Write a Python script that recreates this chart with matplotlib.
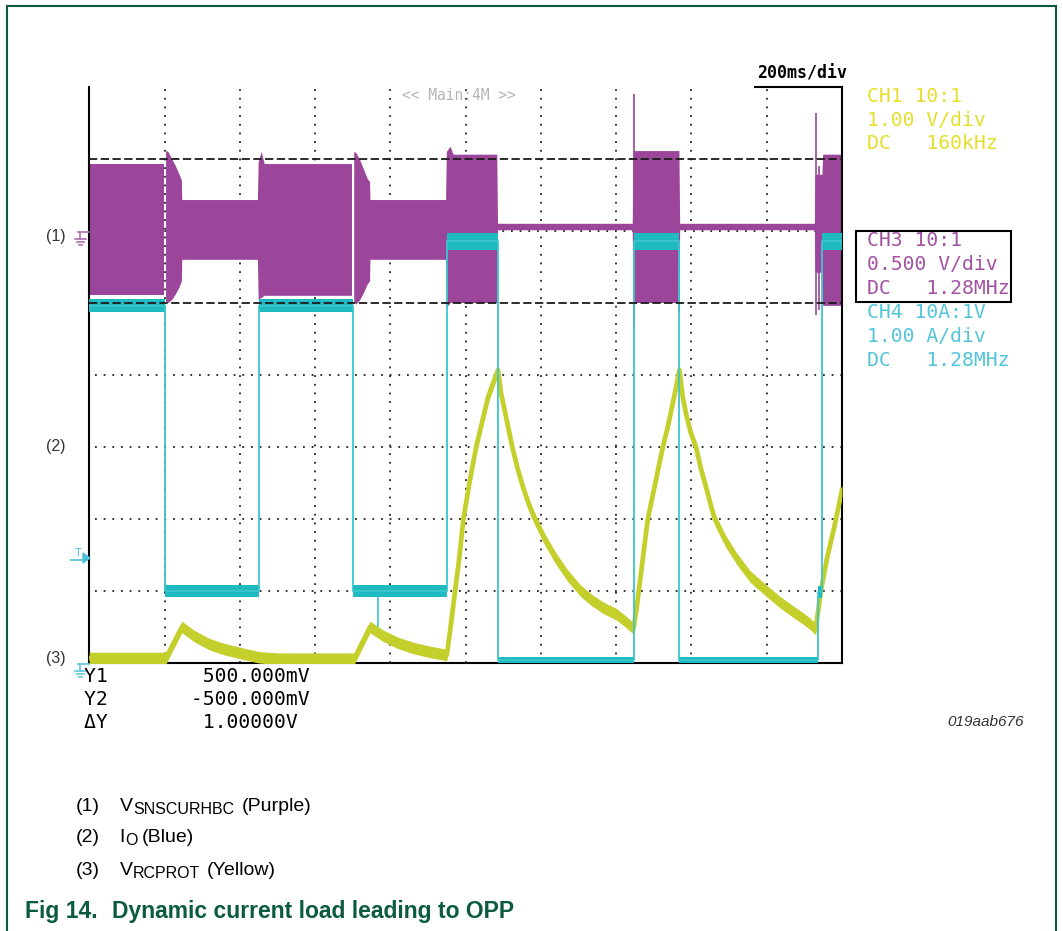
import matplotlib
matplotlib.use('Agg')
import matplotlib.pyplot as plt
import numpy as np
from matplotlib.patches import Rectangle, Polygon

W, H = 1063, 931

# --- CH3 (purple) envelope, time and level in divisions, nan = trace gap
purple_t = [0.00, 0.99, np.nan, 1.02, 1.05, 1.10, 1.15, 1.20, 1.23, 1.235,
            2.24, 2.25, 2.29, 2.33, 3.49, np.nan, 3.52, 3.55, 3.60, 3.65, 3.70, 3.73, 3.735,
            4.74, 4.75, 4.80, 4.84, 5.42, 5.43, 7.22, 7.23, 7.84, 7.85,
            9.64, 9.65, 9.74, 9.75, 10.0]
purple_hi = [6.93, 6.93, np.nan, 7.11, 7.10, 7.00, 6.90, 6.78, 6.70, 6.43,
             6.43, 6.95, 7.10, 6.93, 6.93, np.nan, 7.10, 7.08, 6.98, 6.85, 6.72, 6.68, 6.43,
             6.43, 7.10, 7.17, 7.06, 7.06, 6.10, 6.10, 7.11, 7.11, 6.10,
             6.10, 6.78, 6.78, 7.06, 7.06]
purple_lo = [5.11, 5.11, np.nan, 5.02, 5.00, 5.04, 5.12, 5.22, 5.30, 5.60,
             5.60, 5.05, 5.07, 5.10, 5.10, np.nan, 5.02, 4.98, 5.04, 5.14, 5.26, 5.30, 5.60,
             5.60, 4.93, 5.00, 5.00, 5.00, 6.01, 6.01, 5.00, 5.00, 6.01,
             6.01, 5.42, 5.42, 4.96, 4.96]
spike_t = [7.23, 7.83, 9.66, 9.70]
spike_hi = [7.90, 5.20, 7.64, 6.90]
spike_lo = [4.67, 4.86, 4.83, 4.90]

# --- CH4 (cyan) load current, step levels
cyan_t = [0.0, 1.0, 2.26, 3.5, 4.75, 5.43, 7.23, 7.84, 9.68, 9.74, 10.0]
cyan_lo = [4.87, 0.91, 4.87, 0.91, 5.74, 0.00, 5.74, 0.00, 0.90, 5.74, 5.74]
cyan_hi = [5.06, 1.08, 5.06, 1.08, 5.97, 0.08, 5.97, 0.08, 1.07, 5.97, 5.97]

# --- CH1 (yellow) RCPROT voltage
yellow_t = [0.0, 1.02, 1.23, 1.4, 1.6, 1.8, 2.0, 2.25, 2.5, 3.52, 3.73, 3.9, 4.1, 4.3, 4.5,
            4.75, 4.80, 4.86, 4.92, 4.97, 5.05, 5.14, 5.22, 5.30, 5.37, 5.43,
            5.47, 5.52, 5.57, 5.62, 5.69, 5.76, 5.84, 5.92, 6.05, 6.20, 6.35, 6.53,
            6.68, 6.84, 7.00, 7.12, 7.23,
            7.27, 7.30, 7.36, 7.42, 7.52, 7.62, 7.69, 7.75, 7.80, 7.84,
            7.88, 7.93, 7.99, 8.06, 8.13, 8.20, 8.26, 8.31, 8.45, 8.60, 8.78, 9.00,
            9.17, 9.33, 9.48, 9.57, 9.65, 9.72, 9.80, 9.90, 10.0]
yellow_v = [0.07, 0.07, 0.50, 0.37, 0.26, 0.19, 0.14, 0.08, 0.06, 0.06, 0.50, 0.38, 0.28, 0.21, 0.16,
            0.11, 0.50, 1.00, 1.50, 2.00, 2.50, 3.00, 3.35, 3.70, 3.90, 4.07,
            3.75, 3.50, 3.25, 3.00, 2.70, 2.45, 2.20, 2.00, 1.72, 1.45, 1.22, 1.00,
            0.87, 0.76, 0.68, 0.58, 0.48,
            0.75, 1.00, 1.50, 2.00, 2.50, 3.00, 3.30, 3.60, 3.85, 4.07,
            3.72, 3.45, 3.20, 3.00, 2.68, 2.42, 2.18, 2.00, 1.70, 1.45, 1.20, 1.00,
            0.85, 0.73, 0.62, 0.55, 0.47, 1.00, 1.45, 1.90, 2.40]

ch1_lines = ["CH1 10:1", "1.00 V/div", "DC   160kHz"]
ch3_lines = ["CH3 10:1", "0.500 V/div", "DC   1.28MHz"]
ch4_lines = ["CH4 10A:1V", "1.00 A/div", "DC   1.28MHz"]
cursor_lines = ["Y1        500.000mV", "Y2       -500.000mV", "\u0394Y        1.00000V"]

PURPLE = '#9b459b'
CYAN = '#1fbac0'
YELLOW = '#c5cf2c'
GREEN = '#0b5b3f'
MONO = 'DejaVu Sans Mono'
SANS = 'Liberation Sans'


def fx(x):
    return x / W


def fy(y):
    return 1 - y / H


fig = plt.figure(figsize=(W / 100, H / 100), dpi=100)
ax = fig.add_axes([fx(89.3), fy(663), (842 - 89.3) / W, 576 / H])
ax.set_xlim(0, 10)
ax.set_ylim(0, 8)
ax.set_xticks([])
ax.set_yticks([])
ax.spines['top'].set_visible(False)
for s in ['left', 'bottom', 'right']:
    ax.spines[s].set_linewidth(1.5)
    ax.spines[s].set_color('black')

# graticule
dots = (0, (1, 3.8))
for gx in range(1, 10):
    ax.plot([gx, gx], [0, 7.97], ls=dots, lw=1.3, color='#222222', zorder=1)
for gy in [1, 2, 3, 4, 6]:
    ax.plot([0.08, 10], [gy, gy], ls=dots, lw=1.3, color='#222222', zorder=1)

# traces
pt = np.array(purple_t)
ax.fill_between(pt, np.array(purple_lo), np.array(purple_hi), color=PURPLE, lw=0, zorder=2)
ax.vlines(spike_t, spike_lo, spike_hi, color=PURPLE, lw=1.2, zorder=2)

yv = np.array(yellow_v)
ax.fill_between(yellow_t, yv - 0.08, yv + 0.08, color=YELLOW, lw=0, zorder=3)
ax.plot(yellow_t, yv, color=YELLOW, lw=3.4, solid_joinstyle='round', zorder=3)

clo = np.array(cyan_lo)
chi = np.array(cyan_hi)
ax.fill_between(cyan_t, clo, chi, step='post', color=CYAN, lw=0, zorder=4)
ax.plot(cyan_t, (clo + chi) / 2, drawstyle='steps-post', color='#3cc6cc', lw=1.3, zorder=4)
ax.vlines([3.84], [0.5], [0.91], color='#3cc6cc', lw=1.2, zorder=4)

# cursor lines
for cy in [5, 7]:
    ax.plot([0, 10], [cy, cy], ls=(0, (4.6, 1.9)), lw=1.3, color='#1a1a1a', zorder=5)

# time/div bracket
ax.plot([8.85, 10], [8, 8], color='black', lw=1.5, clip_on=False, zorder=5)
fig.text(fx(757), fy(73), "200ms/div", family=MONO, weight='bold', fontsize=12,
         ha='left', va='center', color='black')
fig.text(fx(459), fy(95), "<< Main:4M >>", family=MONO, fontsize=10.5,
         ha='center', va='center', color='#b5b5b5')

# channel settings
for i, s in enumerate(ch1_lines):
    fig.text(fx(867), fy(97 + 23.3 * i), s, family=MONO, fontsize=14.2,
             ha='left', va='center', color='#e6de2c')
for i, s in enumerate(ch3_lines):
    fig.text(fx(867), fy(241 + 23.7 * i), s, family=MONO, fontsize=14.2,
             ha='left', va='center', color='#a352a3')
for i, s in enumerate(ch4_lines):
    fig.text(fx(867), fy(313 + 23.5 * i), s, family=MONO, fontsize=14.2,
             ha='left', va='center', color='#52c5d8')
fig.add_artist(Rectangle((fx(856), fy(302)), (1011 - 856) / W, (302 - 231) / H,
                         transform=fig.transFigure, fill=False, lw=1.5, ec='black'))

# cursor readout
for i, s in enumerate(cursor_lines):
    fig.text(fx(84), fy(677 + 22.5 * i), s, family=MONO, fontsize=14.2,
             ha='left', va='center', color='black')

# left trace labels
for lab, yy in [("(1)", 237), ("(2)", 447), ("(3)", 658)]:
    fig.text(fx(46), fy(yy), lab, family=SANS, fontsize=11.5, ha='left', va='center', color='#333333')


def ground(x0, y0, color):
    segs = [((x0 + 8, x0 - 3), (y0, y0)), ((x0 - 1, x0 - 1), (y0, y0 + 7)),
            ((x0 - 6, x0 + 5), (y0 + 7, y0 + 7)), ((x0 - 4, x0 + 3), (y0 + 10, y0 + 10)),
            ((x0 - 2, x0 + 1), (y0 + 13, y0 + 13))]
    for xs, ys in segs:
        fig.add_artist(plt.Line2D([fx(v) for v in xs], [fy(v) for v in ys],
                                  transform=fig.transFigure, color=color, lw=1.2))


ground(81, 232, '#b070b0')
ground(81, 664, '#5cc8dc')

# trigger marker
fig.text(fx(78), fy(553), "T", family=MONO, fontsize=8, ha='center', va='center', color='#4cc0d8')
fig.add_artist(plt.Line2D([fx(71), fx(86)], [fy(560), fy(560)], transform=fig.transFigure,
                          color='#4cc0d8', lw=1.2))
fig.add_artist(Polygon([(fx(83), fy(553)), (fx(83), fy(563)), (fx(90), fy(558))], closed=True,
                       transform=fig.transFigure, color='#4cc0d8'))

fig.text(fx(1024), fy(722), "019aab676", family=SANS, style='italic', fontsize=11,
         ha='right', va='center', color='#333333')

# caption
cap_rows = [
    ("(1)", "V", "SNSCURHBC", "(Purple)", 811, 120, 133, 242),
    ("(2)", "I", "O", "(Blue)", 842, 119, 125, 142),
    ("(3)", "V", "RCPROT", "(Yellow)", 875, 120, 133, 207),
]
for num, main, sub, tail, base, xm, xs, xt in cap_rows:
    fig.text(fx(76), fy(base), num, family=SANS, fontsize=14, va='baseline', color='black')
    fig.text(fx(xm), fy(base), main, family=SANS, fontsize=14, va='baseline', color='black')
    fig.text(fx(xs), fy(base + 3), sub, family=SANS, fontsize=11.5, va='baseline', color='black')
    fig.text(fx(xt), fy(base), tail, family=SANS, fontsize=14, va='baseline', color='black')

fig.text(fx(25), fy(918), "Fig 14.", family=SANS, weight='bold', fontsize=16.5,
         va='baseline', color=GREEN)
fig.text(fx(112), fy(918), "Dynamic current load leading to OPP", family=SANS, weight='bold',
         fontsize=16.5, va='baseline', color=GREEN)

# page frame
fig.add_artist(Rectangle((fx(7), -0.01), (1056 - 7) / W, fy(6) + 0.01,
                         transform=fig.transFigure, fill=False, lw=1.5, ec=GREEN))

fig.savefig('out.png', dpi=100)
